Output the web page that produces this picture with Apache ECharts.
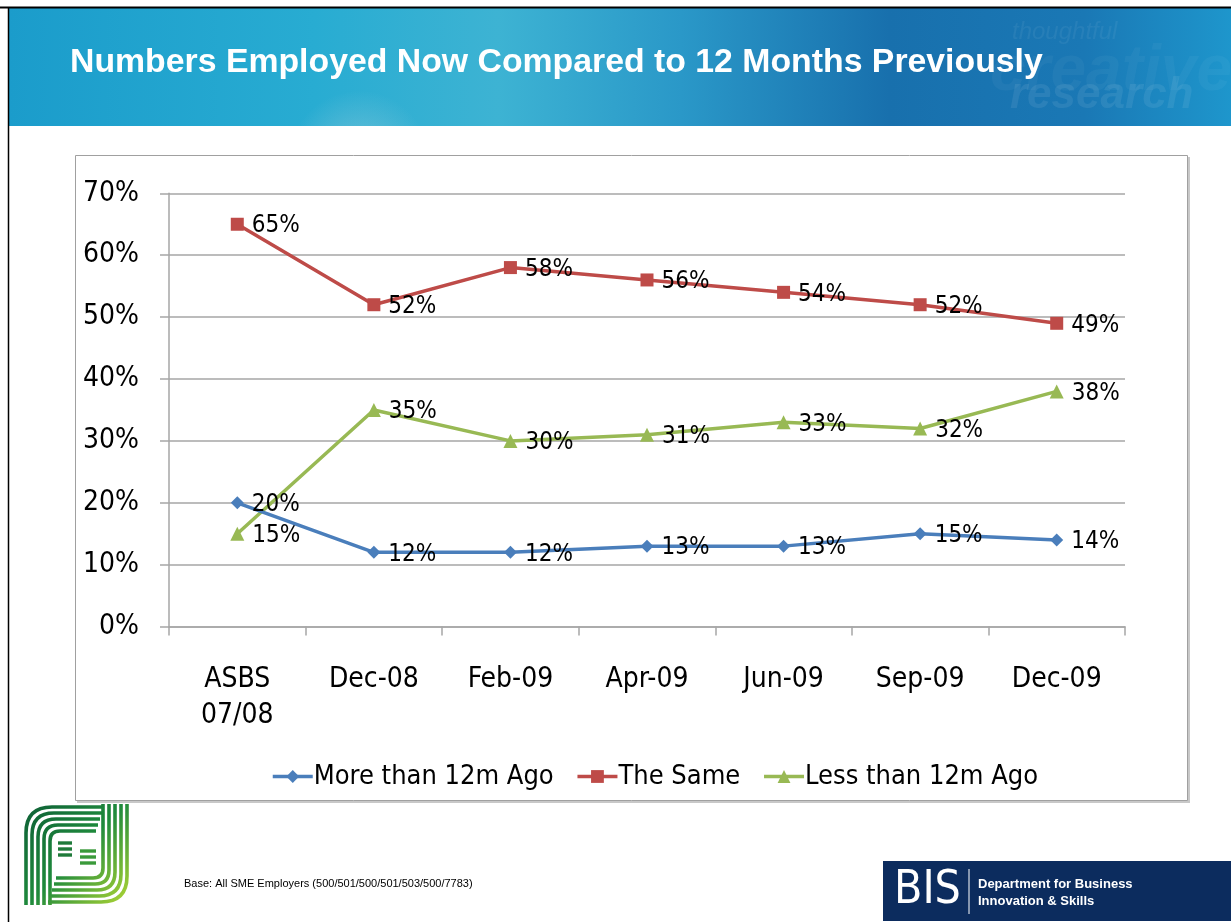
<!DOCTYPE html>
<html><head><meta charset="utf-8">
<script src="https://cdn.jsdelivr.net/npm/echarts@6/dist/echarts.min.js"></script>
<style>html,body{margin:0;padding:0;background:#fff;}#c{width:1231px;height:922px;}</style>
</head><body><div id="c"></div>
<script>
const categories = ['ASBS\n07/08','Dec-08','Feb-09','Apr-09','Jun-09','Sep-09','Dec-09'];
const moreThan = [20,12,12,13,13,15,14];
const theSame = [65,52,58,56,54,52,49];
const lessThan = [15,35,30,31,33,32,38];
const yTicks = [0,10,20,30,40,50,60,70];

const FONT = '"Liberation Sans Narrow","Arial Narrow","DejaVu Sans Condensed",sans-serif';
const chart = echarts.init(document.getElementById('c'));

function logoPaths(){
  const els = [];
  const g = ()=>({type:'linear',x:22,y:803,x2:130,y2:905,global:true,colorStops:[{offset:0,color:'#0d5e36'},{offset:0.5,color:'#1f8a3c'},{offset:1,color:'#b5d934'}]});
  const st = ()=>({fill:null,stroke:g(),lineWidth:3.6});
  for(let i=0;i<5;i++){
    const x = 26 + i*6, y = 807 + i*6, r = 26 - i*4;
    els.push({type:'line',silent:true,shape:{x1:x,y1:905,x2:x,y2:y+r},style:st()});
    els.push({type:'bezierCurve',silent:true,shape:{x1:x,y1:y+r,x2:x+r,y2:y,cpx1:x,cpy1:y},style:st()});
    els.push({type:'line',silent:true,shape:{x1:x+r,y1:y,x2:104-i*2,y2:y},style:st()});
  }
  for(let i=0;i<5;i++){
    const x = 127 - i*6, y = 902 - i*6, r = 26 - i*4;
    els.push({type:'line',silent:true,shape:{x1:x,y1:804,x2:x,y2:y-r},style:st()});
    els.push({type:'bezierCurve',silent:true,shape:{x1:x,y1:y-r,x2:x-r,y2:y,cpx1:x,cpy1:y},style:st()});
    els.push({type:'line',silent:true,shape:{x1:x-r,y1:y,x2:48+i*2,y2:y},style:st()});
  }
  for(let i=0;i<3;i++){
    els.push({type:'line',silent:true,shape:{x1:58,y1:843+i*6,x2:72,y2:843+i*6},style:{stroke:'#1f7a3a',lineWidth:3.4}});
    els.push({type:'line',silent:true,shape:{x1:80,y1:851+i*6,x2:96,y2:851+i*6},style:{stroke:'#3a9a3a',lineWidth:3.4}});
  }
  return els;
}

const graphics = [
  {type:'line',silent:true,shape:{x1:0,y1:7.5,x2:1231,y2:7.5},style:{stroke:'#000',lineWidth:2}},
  {type:'line',silent:true,shape:{x1:8.5,y1:7,x2:8.5,y2:922},style:{stroke:'#000',lineWidth:1.5}},
  {type:'rect',silent:true,z:-1,shape:{x:9,y:8,width:1222,height:118},style:{fill:{type:'linear',x:0,y:0,x2:1,y2:0,colorStops:[
    {offset:0,color:'#1b9ccb'},{offset:0.25,color:'#28acd2'},{offset:0.4,color:'#3db3d3'},{offset:0.55,color:'#2a98c8'},{offset:0.72,color:'#1870ad'},{offset:0.88,color:'#1a78b5'},{offset:1,color:'#1e96cc'}]}}},
  {type:'rect',silent:true,z:-1,shape:{x:9,y:8,width:1000,height:118},style:{fill:{type:'radial',x:0.35,y:1.3,r:0.6,colorStops:[{offset:0,color:'rgba(160,205,215,0.6)'},{offset:0.6,color:'rgba(150,205,220,0.25)'},{offset:1,color:'rgba(150,205,220,0)'}]}}},
  {type:'text',silent:true,style:{x:1012,y:20,text:'thoughtful',font:'italic 24px "Liberation Sans",sans-serif',fill:'rgba(255,255,255,0.06)'}},
  {type:'text',silent:true,style:{x:990,y:40,text:'creative',font:'italic bold 64px "Liberation Sans",sans-serif',fill:'rgba(255,255,255,0.04)'}},
  {type:'text',silent:true,style:{x:1010,y:74,text:'research',font:'italic bold 44px "Liberation Sans",sans-serif',fill:'rgba(255,255,255,0.08)'}},
  {type:'text',silent:true,style:{x:70,y:63,text:'Numbers Employed Now Compared to 12 Months Previously',font:'bold 33.8px "Liberation Sans",Arial,sans-serif',fill:'#ffffff',textVerticalAlign:'middle'}},
  {type:'rect',silent:true,z:-2,shape:{x:77,y:157,width:1113,height:646},style:{fill:'#c8c8c8'}},
  {type:'rect',silent:true,z:-1,shape:{x:75.5,y:155.5,width:1112,height:645},style:{fill:'#fff',stroke:'#a0a0a0',lineWidth:1}},
  {type:'text',silent:true,style:{x:184,y:884,text:'Base: All SME Employers (500/501/500/501/503/500/7783)',font:'11px "Liberation Sans",Arial,sans-serif',fill:'#000',textVerticalAlign:'middle'}},
  {type:'rect',silent:true,shape:{x:883,y:861,width:348,height:60},style:{fill:'#0c2c5e'}},
  {type:'text',silent:true,style:{x:894,y:891,text:'BIS',font:'46px '+FONT,fill:'#fff',textVerticalAlign:'middle'}},
  {type:'line',silent:true,shape:{x1:969,y1:869,x2:969,y2:914},style:{stroke:'#fff',lineWidth:1}},
  {type:'text',silent:true,style:{x:978,y:884,text:'Department for Business',font:'bold 13px "Liberation Sans",sans-serif',fill:'#fff',textVerticalAlign:'middle'}},
  {type:'text',silent:true,style:{x:978,y:901,text:'Innovation & Skills',font:'bold 13px "Liberation Sans",sans-serif',fill:'#fff',textVerticalAlign:'middle'}}
].concat(logoPaths());

const labelStyle = {show:true,position:'right',distance:8,fontFamily:FONT,fontSize:24,color:'#000',formatter:p=>p.value+'%',offset:[0,2]};

chart.setOption({
  animation:false,
  backgroundColor:'#fff',
  graphic:graphics,
  grid:{left:169,right:106,top:193.3,bottom:295.4,containLabel:false},
  legend:{
    top:758,left:266,itemGap:22,itemWidth:40,itemHeight:16,
    lineStyle:{width:3.5},
    textStyle:{fontFamily:FONT,fontSize:27,color:'#000',padding:[0,0,0,-4]},
    data:['More than 12m Ago','The Same','Less than 12m Ago']
  },
  xAxis:{
    type:'category',data:categories,boundaryGap:true,
    axisLine:{lineStyle:{color:'#a6a6a6',width:1.5}},
    axisTick:{show:true,length:9,lineStyle:{color:'#a6a6a6',width:1.5}},
    axisLabel:{fontFamily:FONT,fontSize:28,color:'#000',margin:35,lineHeight:36,interval:0}
  },
  yAxis:{
    type:'value',min:0,max:70,interval:10,
    axisLine:{show:true,lineStyle:{color:'#a6a6a6',width:1.5}},
    axisTick:{show:true,length:9,lineStyle:{color:'#a6a6a6',width:1.5}},
    splitLine:{lineStyle:{color:'#a6a6a6',width:1.5}},
    axisLabel:{fontFamily:FONT,fontSize:28,color:'#000',margin:30,
      formatter:v=>yTicks.includes(v)?v+'%':''}
  },
  series:[
    {name:'More than 12m Ago',type:'line',data:moreThan,color:'#4a7ebb',symbol:'diamond',symbolSize:13,
     lineStyle:{width:3.5,color:'#4a7ebb'},itemStyle:{color:'#4a7ebb'},label:labelStyle,z:3},
    {name:'The Same',type:'line',data:theSame,color:'#be4b48',symbol:'rect',symbolSize:13,
     lineStyle:{width:3.5,color:'#be4b48'},itemStyle:{color:'#be4b48'},label:labelStyle,z:3},
    {name:'Less than 12m Ago',type:'line',data:lessThan,color:'#98b954',symbol:'triangle',symbolSize:14,
     lineStyle:{width:3.5,color:'#98b954'},itemStyle:{color:'#98b954'},label:labelStyle,z:2}
  ]
});
</script></body></html>
